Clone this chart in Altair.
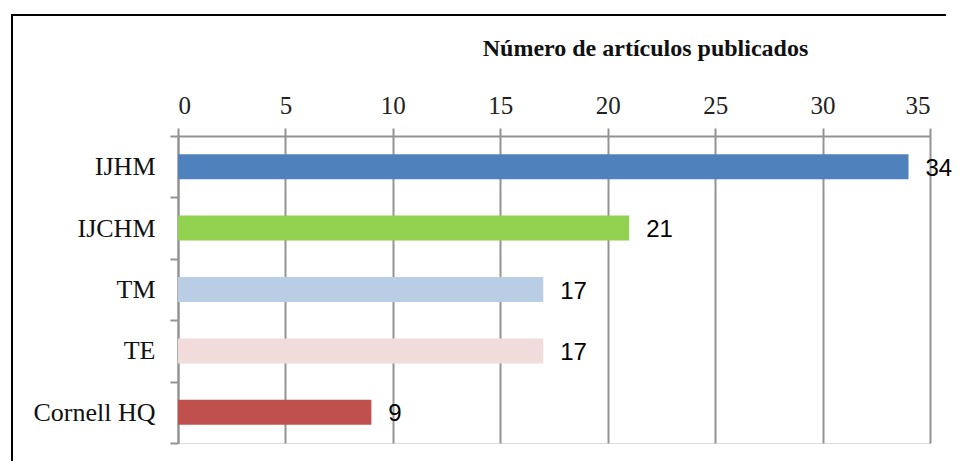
import altair as alt
import pandas as pd

journals = ["IJHM", "IJCHM", "TM", "TE", "Cornell HQ"]
articles = [34, 21, 17, 17, 9]
colors = ["#4F81BD", "#92D050", "#B9CDE5", "#F2DCDB", "#C0504D"]
x_ticks = [0, 5, 10, 15, 20, 25, 30, 35]
title_text = "Número de artículos publicados"

df = pd.DataFrame({"journal": journals, "n": articles})

SERIF = "Liberation Serif"
GRID = "#939393"

y_enc = alt.Y(
    "journal:N",
    sort=journals,
    scale=alt.Scale(paddingInner=0, paddingOuter=0),
    axis=alt.Axis(
        title=None,
        labelFont=SERIF,
        labelFontSize=26,
        labelColor="#111111",
        labelPadding=15,
        tickBand="extent",
        tickSize=8,
        tickColor=GRID,
        tickWidth=2,
        domainColor=GRID,
        domainWidth=2,
        grid=False,
    ),
)

x_enc = alt.X(
    "n:Q",
    scale=alt.Scale(domain=[0, 35], nice=False, zero=True),
    axis=alt.Axis(
        orient="top",
        values=x_ticks,
        title=title_text,
        titleFont=SERIF,
        titleFontSize=24,
        titleFontWeight="bold",
        titleColor="#111111",
        titleX=467,
        titleY=-81,
        titleAlign="center",
        titleBaseline="alphabetic",
        titleAngle=0,
        labelFont=SERIF,
        labelFontSize=25,
        labelColor="#222222",
        labelPadding=10,
        tickSize=8,
        tickColor=GRID,
        tickWidth=2,
        domainColor=GRID,
        domainWidth=2,
        grid=True,
        gridColor=GRID,
        gridWidth=2,
    ),
)

bars = alt.Chart(df).mark_bar(size=25).encode(
    y=y_enc,
    x=x_enc,
    color=alt.Color(
        "journal:N",
        scale=alt.Scale(domain=journals, range=colors),
        legend=None,
    ),
)

labels = alt.Chart(df).mark_text(
    align="left",
    baseline="middle",
    dx=17,
    dy=2,
    font="Liberation Sans",
    fontSize=24,
    color="#000000",
).encode(
    y=alt.Y("journal:N", sort=journals),
    x=alt.X("n:Q"),
    text=alt.Text("n:Q"),
)

frame = pd.DataFrame({"k": [0]})
border_top = alt.Chart(frame).mark_rule(color="#000000", strokeWidth=2).encode(
    x=alt.value(-166),
    x2=alt.value(768),
    y=alt.value(-121),
)
border_left = alt.Chart(frame).mark_rule(color="#000000", strokeWidth=2).encode(
    x=alt.value(-166),
    y=alt.value(-122),
    y2=alt.value(330),
)

chart = (
    alt.layer(bars, labels, border_top, border_left)
    .properties(
        width=752,
        height=307,
        padding={"left": 170, "top": 128, "right": 25, "bottom": 18},
        autosize=alt.AutoSizeParams(type="none"),
    )
    .configure_view(strokeWidth=0)
    .configure(background="white")
)

chart.save("out.html", embed_options={"renderer": "svg", "actions": False})
